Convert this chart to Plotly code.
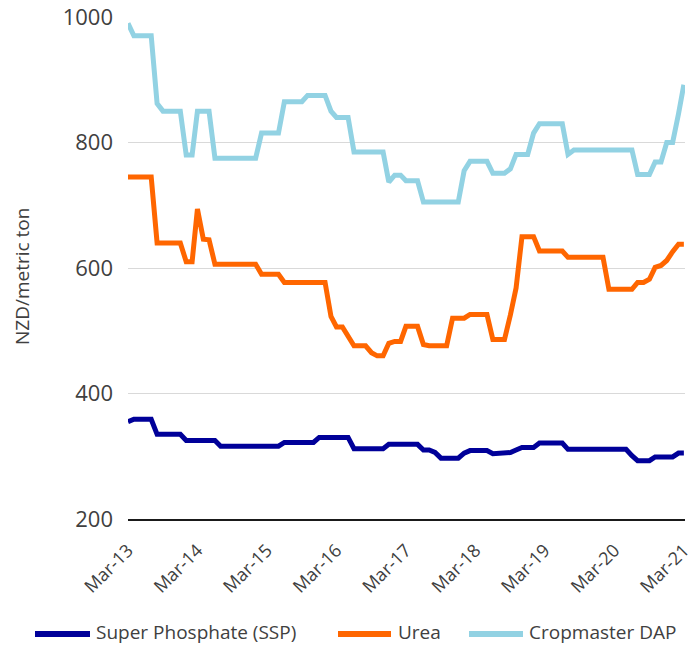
import pandas as pd
import plotly.graph_objects as go

# ---- data (monthly, Mar-2013 .. Mar-2021) ----
dates = pd.date_range("2013-03-01", periods=97, freq="MS")

ssp = ([355] + [359]*4 + [335]*5 + [325]*6 + [316]*11 + [322]*6 + [330]*6 +
       [312]*6 + [319]*6 + [310]*2 + [306] + [297]*4 + [305] + [309]*4 +
       [304]*3 + [306] + [310] + [314]*3 + [321]*5 + [311]*11 + [301] +
       [293]*3 + [299]*4 + [305]*2)

urea = ([745]*5 + [640]*5 + [610]*2 + [694] + [646] + [645] + [606]*8 +
        [590]*4 + [577]*8 + [523] + [506]*2 + [490] + [476]*3 + [465] +
        [460]*2 + [480] + [483]*2 + [507]*3 + [478] + [476]*4 + [520]*3 +
        [526]*4 + [486]*3 + [525] + [568] + [650]*3 + [627]*5 + [617]*7 +
        [566]*5 + [577]*2 + [582] + [601] + [604] + [612] + [626] + [638]*2)

dap = ([990] + [970]*4 + [862] + [850]*4 + [780]*2 + [850]*3 + [775]*8 +
       [815]*4 + [865]*4 + [875]*4 + [850] + [840]*3 + [785]*6 + [737] +
       [748]*2 + [739]*3 + [705]*7 + [755] + [770]*4 + [751]*3 + [758] +
       [781]*3 + [815] + [830]*5 + [781] + [788]*11 + [749]*3 + [769]*2 +
       [800]*2 + [846] + [892])

series_names = ["Super Phosphate (SSP)", "Urea", "Cropmaster DAP"]
series_values = [ssp, urea, dap]
series_colors = ["#000099", "#FF6600", "#92D2E3"]

tick_dates = pd.date_range("2013-03-01", periods=9, freq="12MS")
tick_labels = ["Mar-13", "Mar-14", "Mar-15", "Mar-16", "Mar-17",
               "Mar-18", "Mar-19", "Mar-20", "Mar-21"]
y_ticks = [200, 400, 600, 800, 1000]
y_title = "NZD/metric ton"

# ---- figure ----
W, H = 689, 645
L, R, T, B = 128, 4, 17, 126
FONT = "Open Sans"
TXT = "#404040"

fig = go.Figure()
for name, vals, col in zip(series_names, series_values, series_colors):
    fig.add_trace(go.Scatter(x=dates, y=vals, mode="lines", name=name,
                             line=dict(color=col, width=5),
                             showlegend=False))

fig.update_layout(
    width=W, height=H,
    margin=dict(l=L, r=R, t=T, b=B),
    paper_bgcolor="white", plot_bgcolor="white",
    font=dict(family=FONT, size=19, color=TXT),
    showlegend=False,
)
fig.update_xaxes(
    range=[dates[0], dates[-1] + pd.Timedelta(days=6)],
    tickvals=list(tick_dates), ticktext=tick_labels,
    tickangle=-45, ticks="", ticklabelstandoff=12,
    ticklabeloverflow="allow", automargin=False,
    showgrid=False, zeroline=False,
    showline=True, linecolor="#1a1a1a", linewidth=1.5,
    tickfont=dict(size=18, color=TXT),
)
fig.update_yaxes(
    range=[200, 1000], tickvals=y_ticks, automargin=False,
    showgrid=True, gridcolor="#d9d9d9", gridwidth=1,
    zeroline=False, showline=False, ticks="", ticklabelstandoff=14,
    tickfont=dict(size=22, color=TXT),
)

pw = W - L - R
ph = H - T - B
def px(xp):
    return (xp - L) / pw
def py(yp):
    return (H - B - yp) / ph

# y-axis title
fig.add_annotation(xref="paper", yref="paper", x=px(22), y=py(277),
                   text=y_title, textangle=-90, showarrow=False,
                   xanchor="center", yanchor="middle",
                   font=dict(size=19, color=TXT))

# ---- custom legend (long line swatches like the reference) ----
leg_y = 634
leg_items = [(35, 90, 94), (338, 391, 396), (469, 523, 527)]
for (x0, x1, xt), name, col in zip(leg_items, series_names, series_colors):
    fig.add_shape(type="line", xref="paper", yref="paper",
                  x0=px(x0), x1=px(x1), y0=py(leg_y), y1=py(leg_y),
                  line=dict(color=col, width=6))
    fig.add_annotation(xref="paper", yref="paper", x=px(xt), y=py(leg_y - 2),
                       text=name, showarrow=False, xanchor="left",
                       yanchor="middle", font=dict(size=19, color=TXT))

fig.write_html("out.html")
